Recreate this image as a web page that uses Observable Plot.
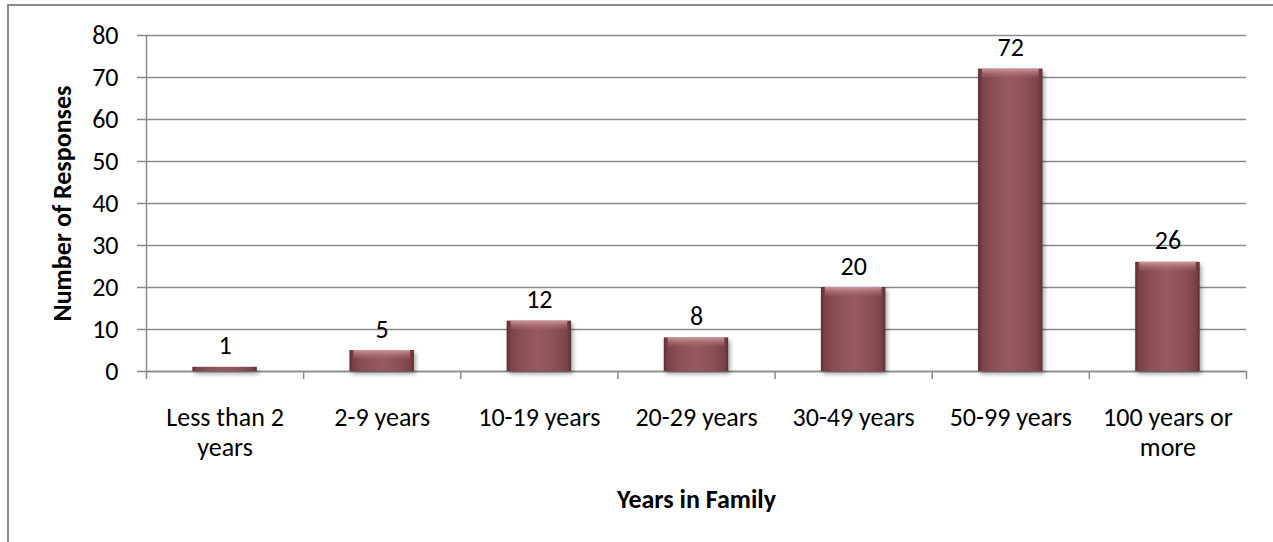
<!DOCTYPE html>
<html><head><meta charset="utf-8">
<script src="https://cdn.jsdelivr.net/npm/d3@7"></script>
<script src="https://cdn.jsdelivr.net/npm/@observablehq/plot@0.6"></script>
<style>
html,body{margin:0;padding:0;background:#fff;overflow:hidden;}
#wrap{position:relative;width:1273px;height:542px;overflow:hidden;background:#fff;}
#border{position:absolute;left:7px;top:4px;width:1400px;height:700px;border:2px solid #8a8a8a;box-sizing:border-box;}
#chart{position:absolute;left:0;top:0;}
.bars rect{filter:drop-shadow(2px 3px 2px rgba(0,0,0,0.35));}
</style></head><body>
<div id="wrap"><div id="border"></div><div id="chart"></div></div>
<script>
const categories = ["Less than 2 years","2-9 years","10-19 years","20-29 years","30-49 years","50-99 years","100 years or more"];
const tickLabels = ["Less than 2\nyears","2-9 years","10-19 years","20-29 years","30-49 years","50-99 years","100 years or\nmore"];
const responses = [1,5,12,8,20,72,26];
const yTicks = [0,10,20,30,40,50,60,70,80];
const xTitle = "Years in Family";
const yTitle = "Number of Responses";

const data = categories.map((c,i)=>({category:c, label:tickLabels[i], value:responses[i]}));
const W=1273, H=542, ML=146, MR=27, MT=35, MB=171;
const step = (W-ML-MR)/categories.length;
const gray = "#8a8a8a";

const chart = Plot.plot({
  width:W, height:H, marginLeft:ML, marginRight:MR, marginTop:MT, marginBottom:MB,
  style:{fontFamily:"Carlito, Lato, sans-serif", fontSize:"26px", color:"#000", background:"transparent", overflow:"visible"},
  x:{domain:categories, paddingInner:0.59, paddingOuter:0.295, round:false},
  y:{domain:[0,80]},
  marks:[
    Plot.gridY(yTicks, {stroke:gray, strokeOpacity:1, strokeWidth:1.5}),
    Plot.axisY(yTicks, {tickSize:9, tickPadding:19, stroke:gray, strokeWidth:1.5, label:null, fill:"#000"}),
    Plot.axisX({tickSize:0, tickPadding:33, label:null, fill:"#000", lineHeight:1.15,
      tickFormat:d=>tickLabels[categories.indexOf(d)]}),
    Plot.ruleX(categories, {x:d=>d, dx:-step/2, y1:0, y2:-1.9, stroke:gray, strokeWidth:1.5}),
    Plot.ruleX(categories.slice(-1), {x:d=>d, dx:step/2, y1:0, y2:-1.9, stroke:gray, strokeWidth:1.5}),
    Plot.ruleX(categories.slice(0,1), {x:d=>d, dx:-step/2, y1:0, y2:80, stroke:gray, strokeWidth:1.5}),
    Plot.ruleY([0], {stroke:gray, strokeWidth:1.5}),
    Plot.barY(data, {x:"category", y:"value", fill:"url(#barGrad)", className:"bars"}),
    Plot.barY(data.filter(d=>d.value>=3), {x:"category", y1:"value", y2:"value", insetBottom:-9, fill:"url(#bevelGrad)", insetLeft:4, insetRight:4}),
    Plot.text(data, {x:"category", y:"value", text:d=>String(d.value), lineAnchor:"bottom", dy:-13, fill:"#000"}),
    Plot.text([xTitle], {frameAnchor:"bottom", dy:128, fontWeight:"bold", lineAnchor:"middle", fill:"#000"}),
    Plot.text([yTitle], {frameAnchor:"left", dx:-84, rotate:-90, fontWeight:"bold", textAnchor:"middle", lineAnchor:"middle", fill:"#000"})
  ]
});
d3.select(chart).insert("defs", ":first-child").html(`
  <linearGradient id="barGrad" x1="0" x2="1" y1="0" y2="0">
    <stop offset="0%" stop-color="#5a2e32"/>
    <stop offset="6%" stop-color="#7a4247"/>
    <stop offset="22%" stop-color="#8a4f54"/>
    <stop offset="50%" stop-color="#975a5f"/>
    <stop offset="78%" stop-color="#8a4f54"/>
    <stop offset="94%" stop-color="#7a4247"/>
    <stop offset="100%" stop-color="#5a2e32"/>
  </linearGradient>
  <linearGradient id="bevelGrad" x1="0" x2="0" y1="0" y2="1">
    <stop offset="0%" stop-color="#d29ca1" stop-opacity="0.95"/>
    <stop offset="100%" stop-color="#a4676c" stop-opacity="0.2"/>
  </linearGradient>`);
document.getElementById("chart").appendChild(chart);
</script>
</body></html>
